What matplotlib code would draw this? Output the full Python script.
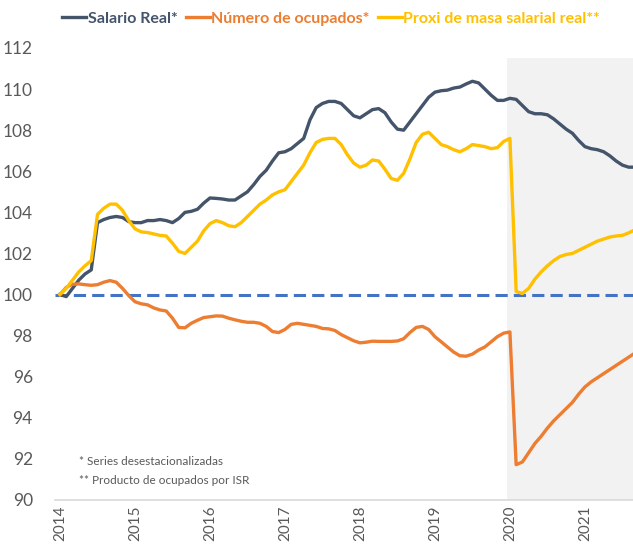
import numpy as np
import matplotlib.pyplot as plt

plt.rcParams['font.family'] = ['Lato', 'DejaVu Sans']

# índices mensuales desde enero 2014
salario_real = [
    100.0, 99.9, 100.3, 100.7, 101.0, 101.2, 103.5, 103.65, 103.75, 103.8,
    103.75, 103.55, 103.5, 103.5, 103.6, 103.6, 103.65, 103.6, 103.5, 103.7,
    104.0, 104.05, 104.15, 104.45, 104.7, 104.68, 104.65, 104.6, 104.6, 104.8,
    105.0, 105.35, 105.75, 106.05, 106.5, 106.9, 106.95, 107.1, 107.35, 107.6,
    108.5, 109.1, 109.3, 109.4, 109.4, 109.3, 109.0, 108.7, 108.6, 108.8,
    109.0, 109.05, 108.85, 108.4, 108.05, 108.0, 108.4, 108.8, 109.2, 109.6,
    109.85, 109.92, 109.95, 110.05, 110.1, 110.25, 110.38, 110.3, 110.0, 109.7,
    109.45, 109.45, 109.55, 109.5, 109.2, 108.9, 108.8, 108.8, 108.75, 108.55,
    108.3, 108.05, 107.85, 107.5, 107.2, 107.1, 107.05, 106.95, 106.75, 106.5,
    106.3, 106.2, 106.2,
]

ocupados = [
    100.0, 100.35, 100.5, 100.52, 100.48, 100.45, 100.48, 100.6, 100.68, 100.6,
    100.3, 99.95, 99.65, 99.55, 99.5, 99.35, 99.25, 99.2, 98.85, 98.4,
    98.38, 98.6, 98.75, 98.88, 98.92, 98.96, 98.95, 98.85, 98.77, 98.7,
    98.65, 98.65, 98.6, 98.45, 98.2, 98.15, 98.3, 98.55, 98.6, 98.55,
    98.5, 98.45, 98.35, 98.33, 98.25, 98.05, 97.9, 97.75, 97.65, 97.68,
    97.73, 97.72, 97.72, 97.72, 97.74, 97.85, 98.15, 98.4, 98.45, 98.3,
    97.95, 97.7, 97.45, 97.2, 97.02, 97.0, 97.1, 97.3, 97.45, 97.7,
    97.95, 98.12, 98.18, 91.72, 91.85, 92.3, 92.75, 93.1, 93.5, 93.85,
    94.15, 94.45, 94.75, 95.15, 95.5, 95.75, 95.95, 96.15, 96.35, 96.55,
    96.75, 96.95, 97.15,
]

masa_salarial = [
    100.0, 100.3, 100.7, 101.1, 101.4, 101.65, 103.9, 104.2, 104.4, 104.4,
    104.1, 103.6, 103.2, 103.05, 103.02, 102.95, 102.88, 102.85, 102.5, 102.1,
    102.0, 102.3, 102.6, 103.1, 103.45, 103.6, 103.5, 103.35, 103.3, 103.5,
    103.8, 104.1, 104.4, 104.6, 104.85, 105.0, 105.1, 105.5, 105.9, 106.3,
    106.9, 107.4, 107.55, 107.6, 107.6, 107.3, 106.8, 106.4, 106.2, 106.3,
    106.55, 106.5, 106.1, 105.65, 105.56, 105.9, 106.6, 107.4, 107.8, 107.9,
    107.6, 107.3, 107.2, 107.05, 106.95, 107.1, 107.3, 107.25, 107.2, 107.1,
    107.15, 107.45, 107.6, 100.15, 100.05, 100.3, 100.75, 101.1, 101.4, 101.65,
    101.85, 101.95, 102.0, 102.15, 102.3, 102.45, 102.6, 102.7, 102.8, 102.85,
    102.88, 103.0, 103.15,
]

years = ["2014", "2015", "2016", "2017", "2018", "2019", "2020", "2021"]
meses = np.arange(len(salario_real))

fig = plt.figure(figsize=(6.33, 5.49), dpi=100)
ax = fig.add_axes([55 / 633, 49 / 549, 578 / 633, 452 / 549])

# periodo pandemia sombreado
ax.fill_between([71.6, 95], 90, 111.5, color="#F2F2F2", lw=0, zorder=0)

ax.axhline(100, color="#4472C4", lw=2.2, ls=(0, (4, 2)), zorder=1)
ax.plot(meses, salario_real, color="#44546A", lw=2.4, label="Salario Real*", zorder=3)
ax.plot(meses, ocupados, color="#ED7D31", lw=2.4, label="Número de ocupados*", zorder=3)
ax.plot(meses, masa_salarial, color="#FFC000", lw=2.4, label="Proxi de masa salarial real**", zorder=3)

ax.set_xlim(-0.8, 91.7)
ax.set_ylim(90, 112)
ax.set_yticks(np.arange(90, 113, 2))
ax.set_xticks(np.arange(0, 12 * len(years), 12))
ax.set_xticklabels(years, rotation=90)
ax.tick_params(axis="both", length=0, colors="#595959")
ax.tick_params(axis="y", pad=16, labelsize=12.5)
ax.tick_params(axis="x", pad=4, labelsize=11)
for s in ["top", "right", "left"]:
    ax.spines[s].set_visible(False)
ax.spines["bottom"].set_color("#D9D9D9")
ax.spines["bottom"].set_linewidth(1.2)

leg = fig.legend(loc="upper left", bbox_to_anchor=(48 / 633, 1.005), ncol=3, frameon=False,
                 handlelength=1.5, handletextpad=0.1, columnspacing=0.5,
                 prop={"size": 11.5, "weight": "bold"})
for txt, line in zip(leg.get_texts(), leg.get_lines()):
    txt.set_color(line.get_color())

ax.text(3, 91.7, "* Series desestacionalizadas", fontsize=8.5, color="#595959")
ax.text(3, 90.8, "** Producto de ocupados por ISR", fontsize=8.5, color="#595959")

fig.savefig("out.png", dpi=100)
